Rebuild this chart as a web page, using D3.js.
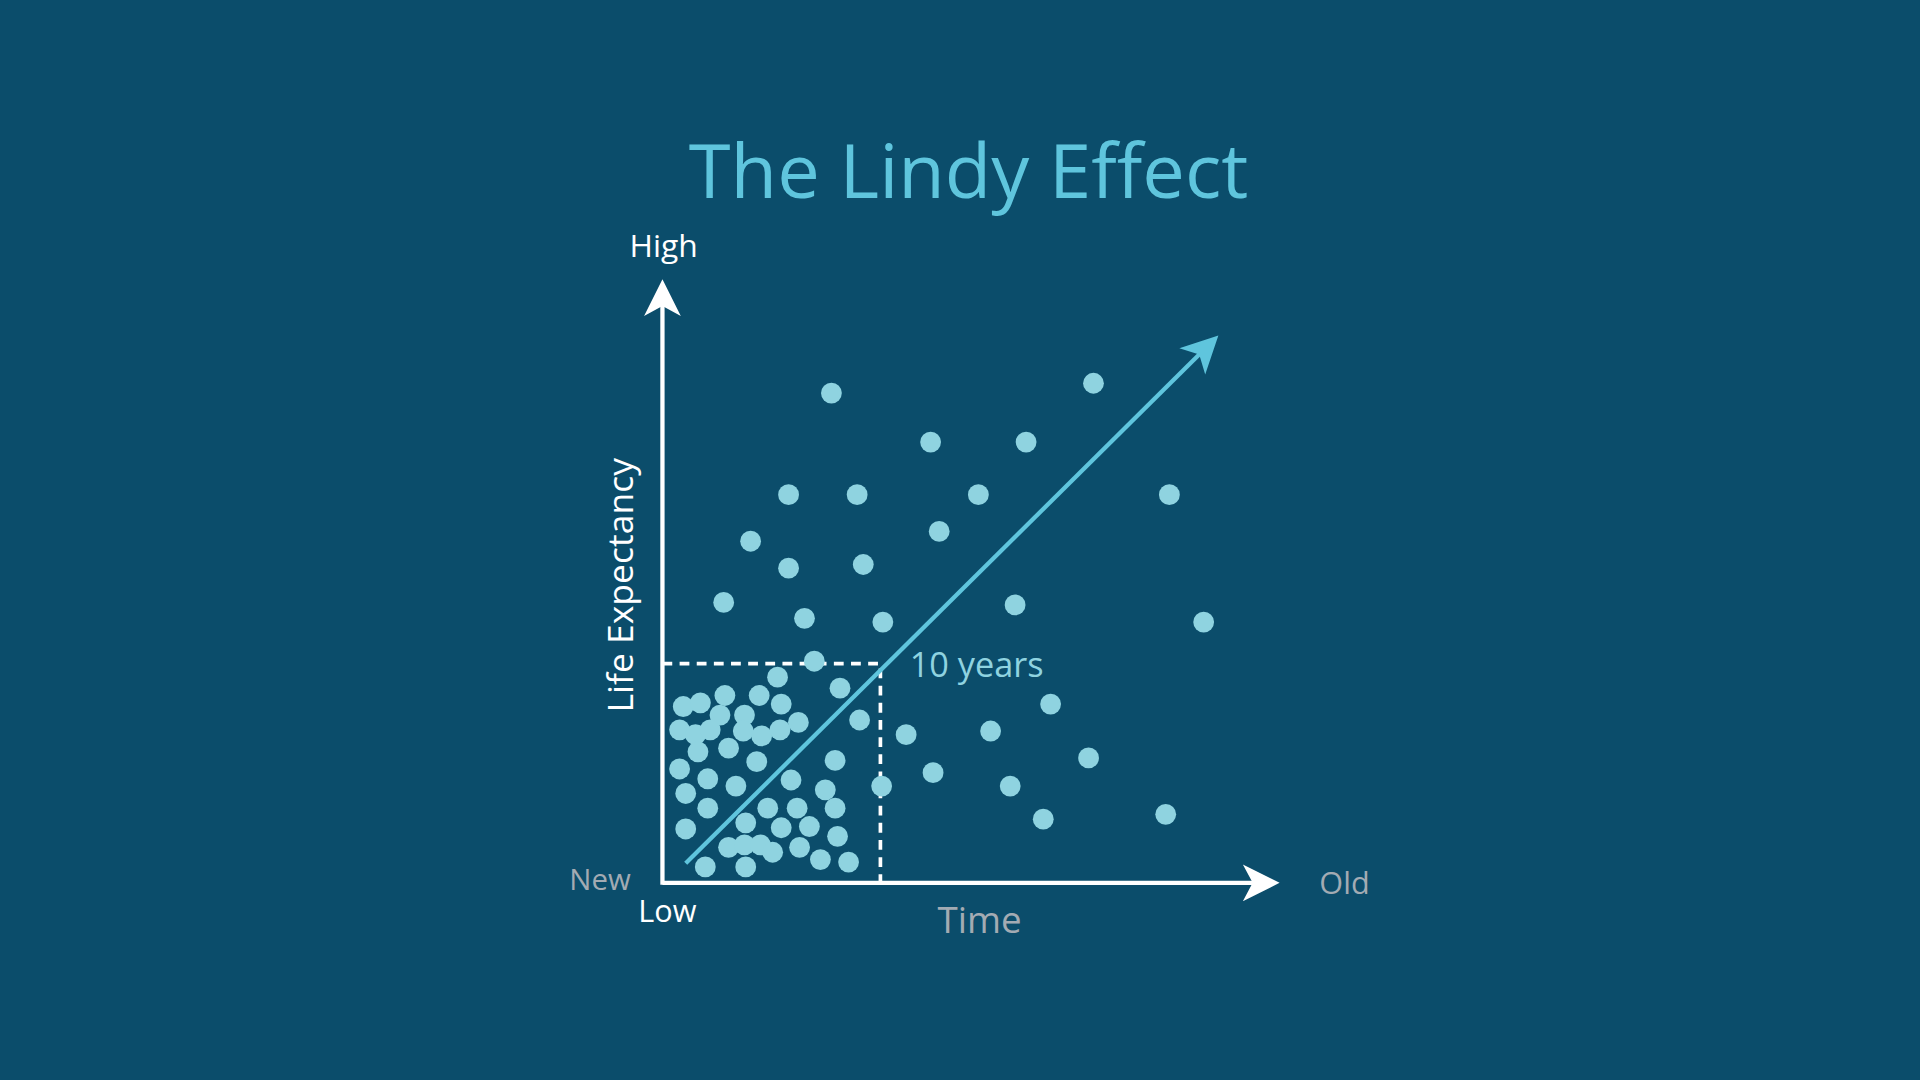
<!DOCTYPE html>
<html>
<head>
<meta charset="utf-8">
<script src="https://cdn.jsdelivr.net/npm/d3@7"></script>
<style>
  html, body { margin: 0; padding: 0; background: #0b4d6b; }
  svg { display: block; font-family: "Open Sans", "Noto Sans", sans-serif; }
</style>
</head>
<body>
<svg id="grafico" width="1920" height="1080" viewBox="0 0 1568 882"></svg>
<script>
// points: time (x) and life expectancy (y), 0..100
let tempo = [27.6,70.4,43.8,59.4,20.6,31.8,51.6,82.8,14.4,45.2,20.6,32.8,10,57.6,23.2,36,88.4,24.8,18.8,29,
  3.4,6.2,10.2,15.8,19.4,13.4,9.4,22.2,32.2,2.8,5.4,7.8,13.2,16.2,19.2,39.8,53.6,63.4,5.8,10.8,
  15.4,28.2,2.8,7.4,12,21,35.8,44.2,56.8,69.6,3.8,26.6,7.4,17.2,22,28.2,62.2,82.2,3.8,13.6,
  19.4,24,28.6,10.8,13.4,16,18,22.4,25.8,30.4,7,13.6];
let expectativa = [80,81.6,72,72,63.4,63.4,63.4,63.4,55.8,57.4,51.4,52,45.8,45.4,43.2,42.6,42.6,36.2,33.6,31.8,
  28.8,29.4,30.6,30.6,29.2,27.4,27.4,26.2,26.6,25,24.2,25,24.8,24,25,24.2,24.8,29.2,21.4,22,
  19.8,20,18.6,17,15.8,16.8,15.8,18,15.8,20.4,14.6,15.2,12.2,12.2,12.2,12.2,10.4,11.2,8.8,9.8,
  9,9.2,7.6,5.8,6.2,6.2,5,5.8,3.8,3.4,2.6,2.6];
let limiteDezAnos = [35.6, 35.8];       // dashed box corner
let tendencia = [[3.8, 3.2], [90.8, 89.4]];
let fimEixoX = 100.8, fimEixoY = 98.6;

let svg = d3.select('#grafico');
let fnx = d3.scaleLinear().domain([0, 100]).range([541, 1041]);
let fny = d3.scaleLinear().domain([0, 100]).range([721, 221]);

let corPonto = '#8fd3e0', corTitulo = '#5fc5dd', cinza = '#a3abb3';

function seta(x, y, ang, cor) {
  // chevron arrowhead with tip at (x,y), pointing along ang (deg)
  svg.append('path')
    .attr('d', 'M0,0 L-30,-15 L-22,0 L-30,15 Z')
    .attr('fill', cor)
    .attr('transform', `translate(${x},${y}) rotate(${ang})`);
}

svg.append('text').text('The Lindy Effect')
  .attr('x', 791).attr('y', 162).attr('text-anchor', 'middle')
  .attr('font-size', 62).attr('fill', corTitulo);

// dashed 10-year box
svg.append('path')
  .attr('d', `M${fnx(0)},${fny(limiteDezAnos[1])} H${fnx(limiteDezAnos[0])} V${fny(0)}`)
  .attr('fill', 'none').attr('stroke', '#fff').attr('stroke-width', 3)
  .attr('stroke-dasharray', '8,6');

// dots
svg.selectAll('.ponto')
  .data(tempo.map((t, i) => [t, expectativa[i]]))
  .join('circle')
  .attr('class', 'ponto')
  .attr('cx', d => fnx(d[0])).attr('cy', d => fny(d[1]))
  .attr('r', 8.5).attr('fill', corPonto);

// trend arrow
let [a, b] = tendencia;
let ang = Math.atan2(fny(b[1]) - fny(a[1]), fnx(b[0]) - fnx(a[0])) * 180 / Math.PI;
svg.append('line')
  .attr('x1', fnx(a[0])).attr('y1', fny(a[1]))
  .attr('x2', fnx(b[0]) - 20 * Math.cos(ang * Math.PI / 180))
  .attr('y2', fny(b[1]) - 20 * Math.sin(ang * Math.PI / 180))
  .attr('stroke', corTitulo).attr('stroke-width', 3.5);
seta(fnx(b[0]), fny(b[1]), ang, corTitulo);

// axes
svg.append('line').attr('x1', fnx(0)).attr('y1', fny(0))
  .attr('x2', fnx(fimEixoX) - 20).attr('y2', fny(0))
  .attr('stroke', '#fff').attr('stroke-width', 3.5);
seta(fnx(fimEixoX), fny(0), 0, '#fff');
svg.append('line').attr('x1', fnx(0)).attr('y1', fny(0) + 1.5)
  .attr('x2', fnx(0)).attr('y2', fny(fimEixoY) + 20)
  .attr('stroke', '#fff').attr('stroke-width', 3.5);
seta(fnx(0), fny(fimEixoY), -90, '#fff');

// labels
svg.append('text').text('High').attr('x', 542).attr('y', 210)
  .attr('text-anchor', 'middle').attr('font-size', 26).attr('fill', '#fff');
svg.append('text').text('Life Expectancy')
  .attr('transform', 'translate(517,478) rotate(-90)')
  .attr('text-anchor', 'middle').attr('font-size', 29).attr('fill', '#fff');
svg.append('text').text('New').attr('x', 490).attr('y', 727)
  .attr('text-anchor', 'middle').attr('font-size', 24).attr('fill', cinza);
svg.append('text').text('Low').attr('x', 545).attr('y', 753)
  .attr('text-anchor', 'middle').attr('font-size', 25).attr('fill', '#fff');
svg.append('text').text('Time').attr('x', 800).attr('y', 762)
  .attr('text-anchor', 'middle').attr('font-size', 30).attr('fill', cinza);
svg.append('text').text('Old').attr('x', 1098).attr('y', 730)
  .attr('text-anchor', 'middle').attr('font-size', 25).attr('fill', cinza);
svg.append('text').text('10 years').attr('x', 743).attr('y', 553)
  .attr('font-size', 28).attr('fill', corPonto);
</script>
</body>
</html>
